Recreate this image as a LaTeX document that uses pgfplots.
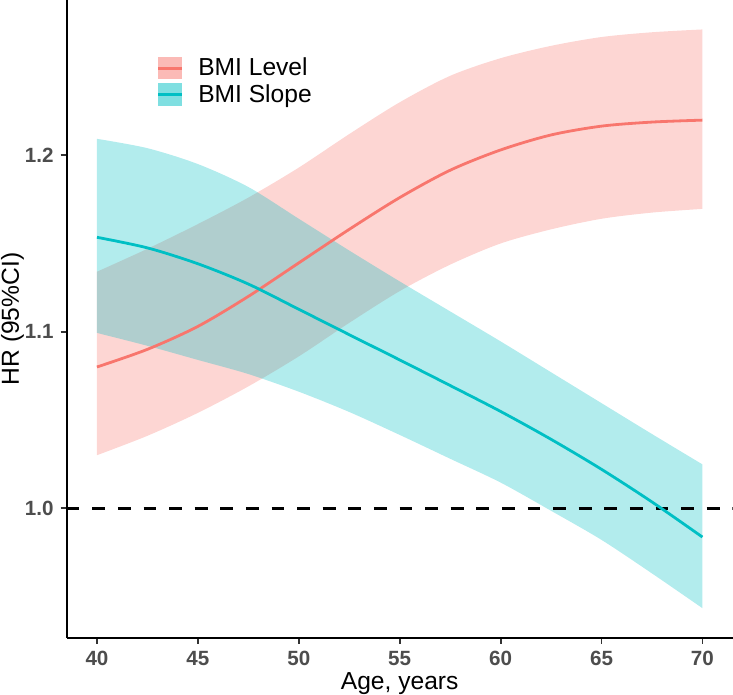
\documentclass[border=0pt]{standalone}
\usepackage{fontspec}
\setmainfont{Liberation Sans}
\usepackage{pgfplots}
\usepackage{pgfplotstable}
\pgfplotsset{compat=1.18}
\usepgfplotslibrary{fillbetween}

\definecolor{lvl}{HTML}{F8766D}
\definecolor{slp}{HTML}{00BFC4}
\definecolor{gray30}{HTML}{4D4D4D}
\definecolor{gray20}{HTML}{333333}

% HR and 95% CI by age
\pgfplotstableread{
x     lvl    lvllo  lvlhi  slp    slplo  slphi
40    1.080  1.030  1.134  1.1535 1.0993 1.2093
42.5  1.090  1.041  1.147  1.1475 1.092  1.204
45    1.103  1.054  1.161  1.1385 1.084  1.195
47.5  1.120  1.069  1.176  1.127  1.076  1.182
50    1.139  1.086  1.193  1.1127 1.066  1.164
52.5  1.158  1.105  1.212  1.0983 1.0545 1.146
55    1.176  1.123  1.230  1.0840 1.0415 1.1285
57.5  1.1915 1.138  1.245  1.0695 1.028  1.1115
60    1.2030 1.150  1.255  1.0548 1.0145 1.0945
62.5  1.2115 1.158  1.262  1.0390 0.9985 1.077
65    1.2165 1.164  1.267  1.0220 0.982  1.0595
67.5  1.2188 1.1675 1.2697 1.0035 0.963  1.042
70    1.2199 1.1696 1.2713 0.9836 0.9433 1.0248
}\hr

\newcommand{\txt}{\fontsize{10.3}{12.4}\selectfont}
\newcommand{\ttl}{\fontsize{12.3}{14.8}\selectfont}

\begin{document}
\begin{tikzpicture}
\begin{axis}[
  at={(0pt,0pt)}, anchor=south west,
  width=333pt, height=319pt, scale only axis,
  xmin=38.5, xmax=71.5, ymin=0.9264, ymax=1.288,
  axis lines=left,
  axis line style={-, line width=0.9pt, black},
  xtick={40,45,...,70}, ytick={1.0,1.1,1.2},
  tick align=outside, major tick length=3pt,
  tick style={gray20, line width=0.9pt},
  /pgf/number format/assume math mode=true,
  yticklabel style={/pgf/number format/.cd, fixed, fixed zerofill, precision=1},
  ticklabel style={font=\txt\bfseries, text=gray30},
  xlabel={Age, years}, ylabel={HR (95\%CI)},
  label style={font=\ttl},
  x label style={at={([yshift=-26pt]axis description cs:0.5,0)}, anchor=base},
  y label style={at={([xshift=-27.1pt]axis description cs:0,0.5)}, anchor=center},
  legend cell align=left,
  legend style={draw=none, fill=none, font=\ttl,
    at={(axis description cs:0.1351,0.9111)}, anchor=north west,
    inner sep=0pt, row sep=1.95pt, column sep=7.5pt,
    nodes={inner sep=0pt}},
]
\addplot[name path=lu, draw=none, smooth, forget plot] table[x=x, y=lvlhi] {\hr};
\addplot[name path=ll, draw=none, smooth, forget plot] table[x=x, y=lvllo] {\hr};
\addplot[name path=su, draw=none, smooth, forget plot] table[x=x, y=slphi] {\hr};
\addplot[name path=sl, draw=none, smooth, forget plot] table[x=x, y=slplo] {\hr};
\addplot[fill=lvl, fill opacity=0.3, draw=none, forget plot] fill between[of=lu and ll];
\addplot[fill=slp, fill opacity=0.3, draw=none, forget plot] fill between[of=su and sl];

\addplot[forget plot, black, line width=1.6pt, dash pattern=on 6.4pt off 6.4pt]
  coordinates {(38.5,1.0) (71.5,1.0)};

\addplot[lvl, line width=1.4pt, smooth,
  legend image code/.code={
    \path[fill=lvl, fill opacity=0.5, draw=none] (0pt,-5.6pt) rectangle (11.7pt,5.6pt);
    \draw[lvl, line width=1.4pt] (0pt,0pt) -- (11.7pt,0pt);}]
  table[x=x, y=lvl] {\hr};
\addplot[slp, line width=1.4pt, smooth,
  legend image code/.code={
    \path[fill=slp, fill opacity=0.5, draw=none] (0pt,-5.6pt) rectangle (11.7pt,5.6pt);
    \draw[slp, line width=1.4pt] (0pt,0pt) -- (11.7pt,0pt);}]
  table[x=x, y=slp] {\hr};

\legend{BMI Level, BMI Slope}
\end{axis}
\pgfresetboundingbox
\path[use as bounding box] (-33.35pt,-28.5pt) rectangle (333.15pt,319pt);
\end{tikzpicture}
\end{document}
